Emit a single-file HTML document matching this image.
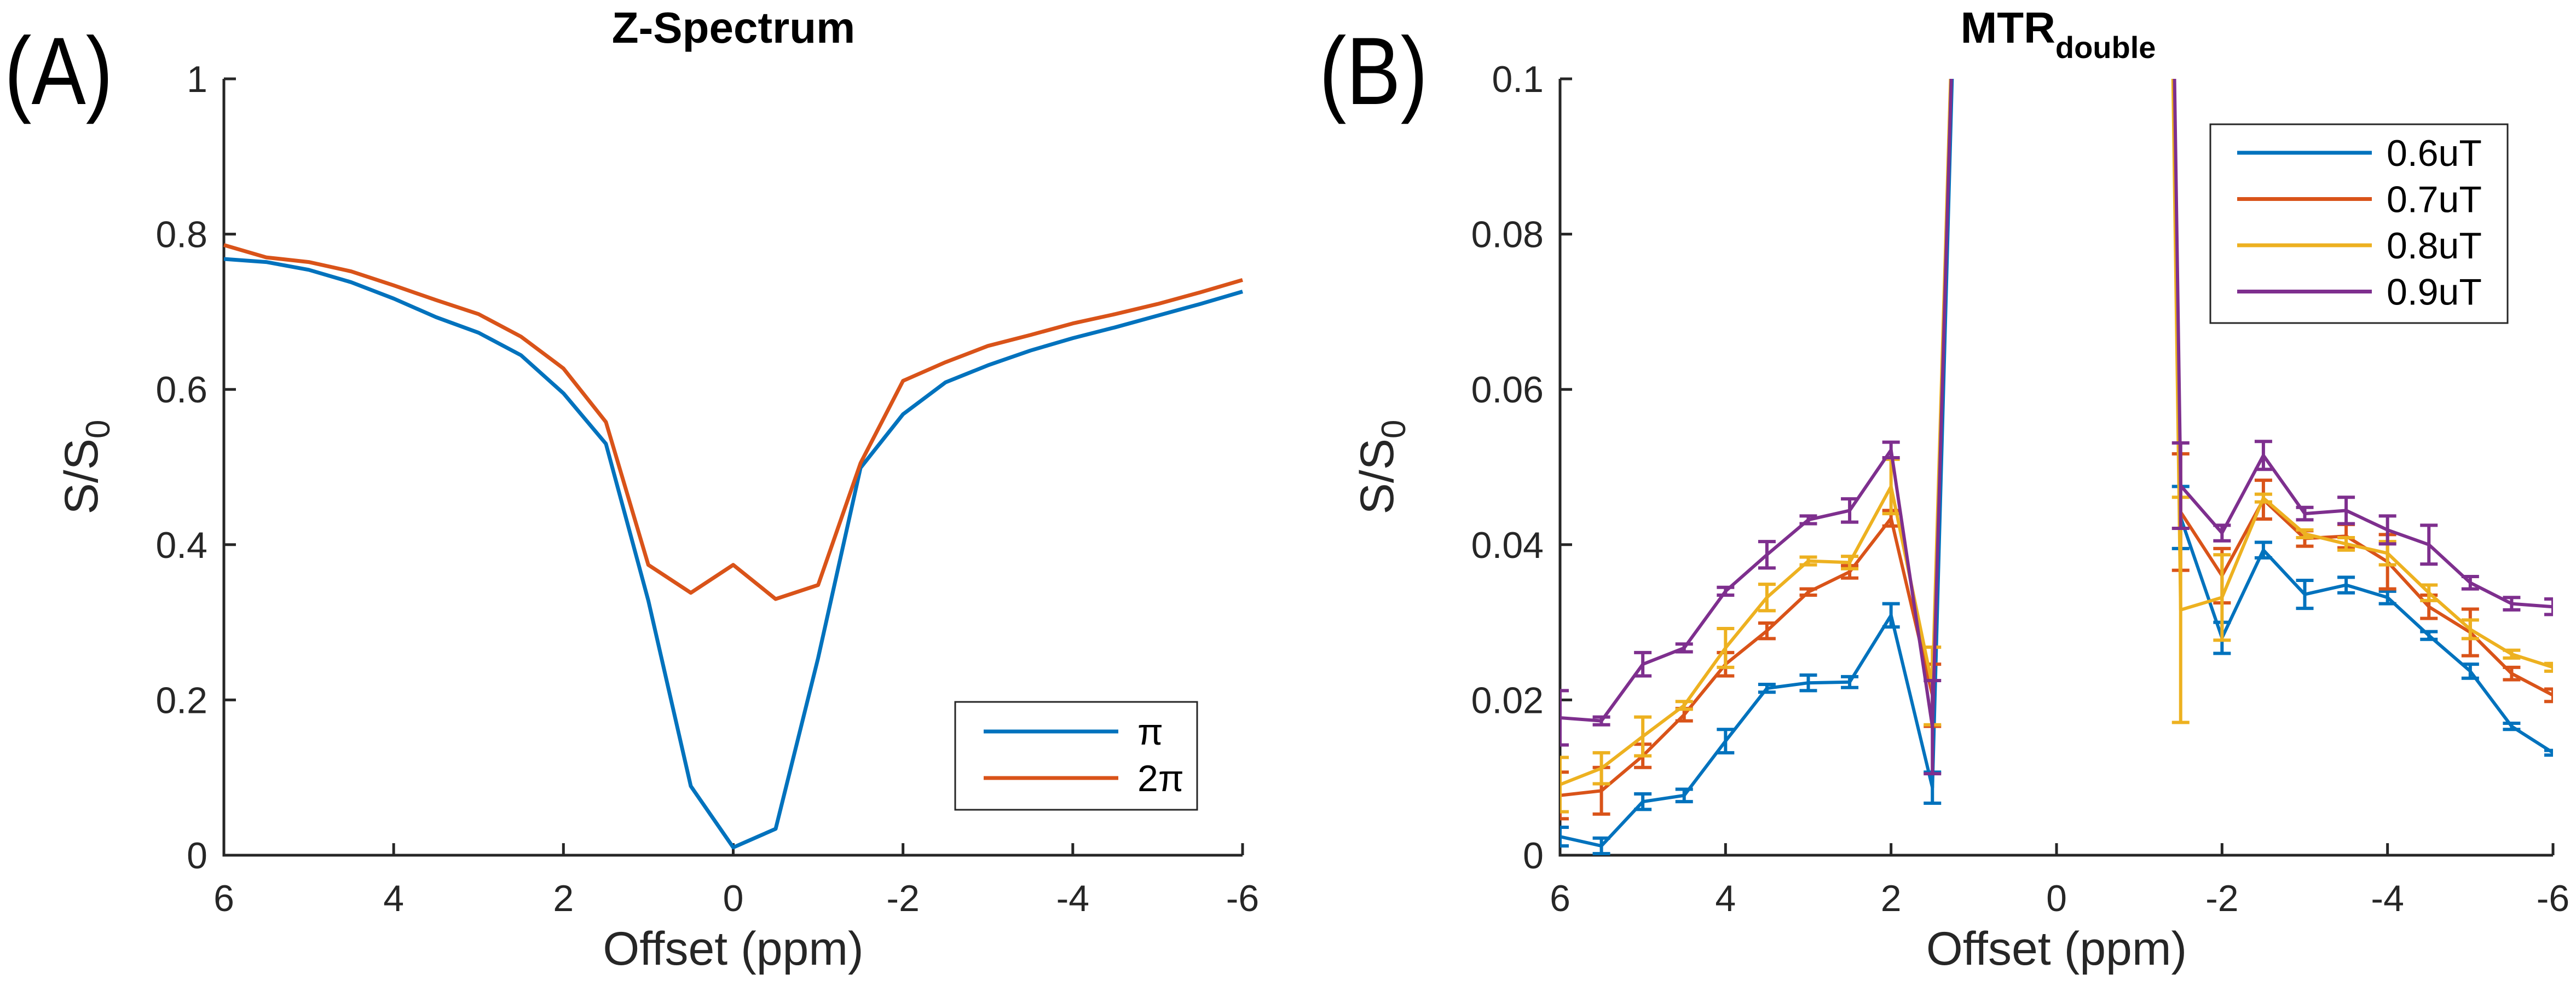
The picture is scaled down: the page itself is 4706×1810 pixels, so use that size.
<!DOCTYPE html>
<html><head><meta charset="utf-8"><style>
html,body{margin:0;padding:0;background:#fff;}
svg{display:block;font-family:"Liberation Sans",sans-serif;}
</style></head><body>
<svg id="fig" width="4706" height="1810" viewBox="0 0 4706 1810" xmlns="http://www.w3.org/2000/svg">
<defs>
<clipPath id="clipB"><rect x="2850" y="144" width="1814" height="1418"/></clipPath>
</defs>
<text x="8" y="190" font-size="175" fill="#000" transform="translate(8,0) scale(0.85,1) translate(-8,0)">(A)</text>
<text x="2410" y="190" font-size="175" fill="#000" transform="translate(2410,0) scale(0.85,1) translate(-2410,0)">(B)</text>
<text x="1340" y="78" font-size="80" font-weight="bold" text-anchor="middle" fill="#000">Z-Spectrum</text>
<text x="3760" y="78" font-size="80" font-weight="bold" text-anchor="middle" fill="#000">MTR<tspan font-size="56" dy="28">double</tspan></text>
<g id="gA"></g>
<g id="gB"></g>
</svg>
<script>
// Panel A data
const offsetsA = [6,5.5,5,4.5,4,3.5,3,2.5,2,1.5,1,0.5,0,-0.5,-1,-1.5,-2,-2.5,-3,-3.5,-4,-4.5,-5,-5.5,-6];
const zPi  = [0.768,0.764,0.754,0.738,0.717,0.693,0.673,0.644,0.595,0.530,0.328,0.089,0.010,0.034,0.254,0.499,0.568,0.609,0.631,0.650,0.666,0.680,0.695,0.710,0.726];
const z2Pi = [0.786,0.770,0.764,0.752,0.734,0.715,0.697,0.668,0.627,0.558,0.374,0.338,0.374,0.330,0.348,0.505,0.611,0.635,0.656,0.670,0.685,0.697,0.710,0.725,0.741];
const yTicksA = [0,0.2,0.4,0.6,0.8,1];
const yTickLabelsA = ["0","0.2","0.4","0.6","0.8","1"];
const xTicks = [6,4,2,0,-2,-4,-6];
const xTickLabels = ["6","4","2","0","-2","-4","-6"];
const legendA = ["π","2π"];
// Panel B data
const offsetsB = [6,5.5,5,4.5,4,3.5,3,2.5,2,1.5,1,0.5,0,-0.5,-1,-1.5,-2,-2.5,-3,-3.5,-4,-4.5,-5,-5.5,-6];
const m06 = [0.0024,0.0012,0.0069,0.0077,0.0147,0.0215,0.0222,0.0223,0.0309,0.0087,0.20,0.6,0.8,0.6,0.40,0.0435,0.0280,0.0393,0.0336,0.0348,0.0332,0.0283,0.0237,0.0166,0.0132];
const e06 = [0.0012,0.001,0.001,0.0008,0.0015,0.0005,0.001,0.0007,0.0015,0.002,0,0,0,0,0,0.004,0.002,0.001,0.0018,0.001,0.0008,0.0005,0.0009,0.0004,0.0003];
const m07 = [0.0077,0.0083,0.0128,0.0181,0.0246,0.0289,0.0339,0.0365,0.0434,0.0206,0.20,0.6,0.8,0.6,0.40,0.0442,0.0360,0.0458,0.0408,0.0411,0.0378,0.0320,0.0287,0.0234,0.0206];
const e07 = [0.003,0.003,0.0015,0.0008,0.0015,0.001,0.0004,0.0008,0.001,0.004,0,0,0,0,0,0.0075,0.0035,0.0025,0.001,0.0015,0.0035,0.0015,0.003,0.0008,0.0008];
const m08 = [0.0091,0.0112,0.0153,0.0193,0.0267,0.0332,0.0379,0.0377,0.0475,0.0218,0.20,0.6,0.8,0.6,0.40,0.0316,0.0332,0.0460,0.0414,0.0401,0.0389,0.0338,0.0291,0.0259,0.0242];
const e08 = [0.0035,0.002,0.0025,0.0005,0.0025,0.0017,0.0005,0.0008,0.0035,0.005,0,0,0,0,0,0.0145,0.0055,0.0005,0.0005,0.0008,0.0015,0.001,0.0012,0.0005,0.0005];
const m09 = [0.0177,0.0173,0.0246,0.0267,0.0340,0.0387,0.0432,0.0444,0.0522,0.0165,0.20,0.6,0.8,0.6,0.40,0.0476,0.0415,0.0515,0.0440,0.0444,0.0419,0.0400,0.0351,0.0324,0.0320];
const e09 = [0.0035,0.0005,0.0015,0.0005,0.0005,0.0017,0.0005,0.0015,0.001,0.006,0,0,0,0,0,0.0055,0.001,0.0018,0.0008,0.0017,0.0018,0.0025,0.0008,0.0008,0.001];
const yTicksB = [0,0.02,0.04,0.06,0.08,0.1];
const yTickLabelsB = ["0","0.02","0.04","0.06","0.08","0.1"];
const legendB = ["0.6uT","0.7uT","0.8uT","0.9uT"];

const NS="http://www.w3.org/2000/svg";
const C=["#0072BD","#D95319","#EDB120","#7E2F8E"];
function mk(tag,attrs,parent,text){const e=document.createElementNS(NS,tag);for(const k in attrs)e.setAttribute(k,attrs[k]);if(text!==undefined)e.textContent=text;parent.appendChild(e);return e;}

function axes(g,L,R,T,B,xmin,xmax,ymax,yt,ytl,ylx,pre){
  const xs=v=>L+(xmax-v)/(xmax-xmin)*(R-L);
  const ys=v=>B-v/ymax*(B-T);
  const ax=mk('path',{d:`M${L},${T}V${B}H${R}`,stroke:'#262626','stroke-width':5,fill:'none'},g);
  
  
  yt.forEach((v,i)=>{
    const t=mk('line',{x1:L,x2:L+22,y1:ys(v),y2:ys(v),stroke:'#262626','stroke-width':5},g);
    
    
    const tx=mk('text',{x:L-30,y:ys(v)+24,'font-size':68,'text-anchor':'end',fill:'#262626'},g,ytl[i]);
    
    
  });
  xTicks.forEach((v,i)=>{
    const t=mk('line',{x1:xs(v),x2:xs(v),y1:B,y2:B-22,stroke:'#262626','stroke-width':5},g);
    
    
    const tx=mk('text',{x:xs(v),y:B+102,'font-size':68,'text-anchor':'middle',fill:'#262626'},g,xTickLabels[i]);
    
    
  });
  const xl=mk('text',{x:(L+R)/2,y:B+200,'font-size':86,'text-anchor':'middle',fill:'#262626'},g,'Offset (ppm)');
  
  
  const yl=mk('text',{x:0,y:0,'font-size':86,'text-anchor':'middle',fill:'#262626',transform:`translate(${ylx},${(T+B)/2}) rotate(-90)`},g);
  
  
  mk('tspan',{},yl,'S/S');
  mk('tspan',{'font-size':62,dy:22},yl,'0');
  return {xs,ys};
}

// Panel A
const gA=document.getElementById('gA');
const A=axes(gA,409,2270,144,1562,-6,6,1,yTicksA,yTickLabelsA,178,'panel-a-');
[zPi,z2Pi].forEach((s,k)=>{
  const d=s.map((v,i)=>(i?'L':'M')+A.xs(offsetsA[i]).toFixed(1)+','+A.ys(v).toFixed(1)).join('');
  const p=mk('path',{d,stroke:C[k],'stroke-width':7,fill:'none','stroke-linejoin':'round'},gA);
  
  
});
const lgA=mk('g',{},gA);


mk('rect',{x:1745,y:1282,width:442,height:197,fill:'#fff',stroke:'#262626','stroke-width':3},lgA);
legendA.forEach((t,k)=>{
  const y=1336+k*85;
  mk('line',{x1:1797,x2:2043,y1:y,y2:y,stroke:C[k],'stroke-width':7},lgA);
  const tx=mk('text',{x:2078,y:y+24,'font-size':68,fill:'#000'},lgA,t);
  
  
});

// Panel B
const gB=document.getElementById('gB');
const B=axes(gB,2850,4664,144,1562,-6,6,0.1,yTicksB,yTickLabelsB,2545,'panel-b-');
const plotB=mk('g',{'clip-path':'url(#clipB)'},gB);


[[m06,e06],[m07,e07],[m08,e08],[m09,e09]].forEach(([m,e],k)=>{
  const d=m.map((v,i)=>(i?'L':'M')+B.xs(offsetsB[i]).toFixed(1)+','+B.ys(v).toFixed(1)).join('');
  const p=mk('path',{d,stroke:C[k],'stroke-width':6,fill:'none','stroke-linejoin':'round'},plotB);
  
  
  m.forEach((v,i)=>{
    if(!e[i])return;
    const x=B.xs(offsetsB[i]),y1=B.ys(v-e[i]),y2=B.ys(v+e[i]);
    const eb=mk('path',{d:`M${x},${y1}V${y2}M${x-16},${y1}H${x+16}M${x-16},${y2}H${x+16}`,stroke:C[k],'stroke-width':6,fill:'none'},plotB);
    
    
  });
});
const lgB=mk('g',{},gB);


mk('rect',{x:4038,y:227,width:543,height:363,fill:'#fff',stroke:'#262626','stroke-width':3},lgB);
legendB.forEach((t,k)=>{
  const y=279+k*84.5;
  mk('line',{x1:4087,x2:4333,y1:y,y2:y,stroke:C[k],'stroke-width':7},lgB);
  const tx=mk('text',{x:4360,y:y+24,'font-size':68,fill:'#000'},lgB,t);
  
  
});
</script>
</body></html>
